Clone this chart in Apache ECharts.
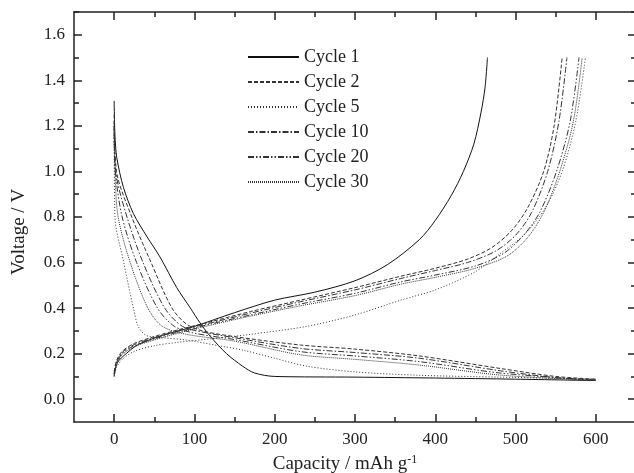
<!DOCTYPE html>
<html>
<head>
<meta charset="utf-8">
<script src="https://cdn.jsdelivr.net/npm/echarts@6/dist/echarts.min.js"></script>
<style>
html, body { margin: 0; padding: 0; background: #fff; }
#main { width: 634px; height: 473px; }
</style>
</head>
<body>
<div id="main"></div>
<script>
// capacity (mAh g-1), voltage (V) pairs
var discharge1 = [[0,1.31],[1,1.16],[3.3,1.06],[11.6,0.93],[24,0.815],[41,0.713],[57,0.625],[78,0.49],[95,0.4],[107,0.335],[120,0.275],[140,0.2],[160,0.145],[175,0.115],[200,0.1],[300,0.097],[400,0.093],[500,0.088],[600,0.082]];
var charge1 = [[0,0.1],[4,0.16],[15,0.2],[30,0.24],[60,0.28],[100,0.32],[150,0.38],[200,0.435],[250,0.47],[300,0.52],[340,0.59],[380,0.7],[400,0.785],[420,0.895],[435,1.0],[448,1.12],[457,1.26],[462,1.37],[465,1.5]];

var discharge2 = [[0,1.25],[3,1.0],[22,0.8],[46,0.6],[72,0.4],[90,0.33],[110,0.3],[150,0.275],[232,0.238],[300,0.22],[380,0.19],[481,0.135],[550,0.1],[600,0.088]];
var charge2 = [[0,0.12],[3,0.17],[10,0.21],[25,0.245],[50,0.275],[80,0.305],[120,0.34],[170,0.385],[232,0.435],[300,0.49],[357,0.54],[400,0.575],[440,0.615],[470,0.665],[495,0.74],[515,0.84],[535,1.0],[548,1.2],[558,1.5]];

var discharge5 = [[0,1.2],[1,0.8],[12,0.6],[24,0.4],[30,0.32],[40,0.28],[60,0.27],[90,0.26],[130,0.235],[161,0.215],[200,0.18],[240,0.145],[300,0.12],[380,0.105],[481,0.097],[600,0.088]];
var charge5 = [[0,0.1],[3,0.14],[10,0.175],[25,0.21],[50,0.235],[80,0.25],[120,0.265],[170,0.285],[240,0.32],[300,0.37],[357,0.435],[400,0.48],[450,0.56],[481,0.64],[510,0.72],[537,0.84],[558,1.0],[575,1.22],[587,1.5]];

var discharge10 = [[0,1.22],[2,1.0],[16,0.8],[36,0.6],[63,0.4],[85,0.32],[110,0.295],[150,0.27],[232,0.223],[300,0.205],[380,0.18],[481,0.125],[550,0.095],[600,0.085]];
var charge10 = [[0,0.11],[3,0.16],[10,0.205],[25,0.24],[50,0.27],[80,0.3],[120,0.335],[170,0.378],[232,0.428],[300,0.48],[357,0.53],[400,0.565],[440,0.6],[475,0.65],[500,0.72],[520,0.82],[540,1.0],[554,1.22],[564,1.5]];

var discharge20 = [[0,1.2],[1.5,1.0],[10,0.8],[28,0.6],[54,0.4],[75,0.32],[100,0.29],[150,0.262],[232,0.209],[300,0.19],[380,0.165],[481,0.115],[600,0.083]];
var charge20 = [[0,0.11],[3,0.16],[10,0.2],[25,0.235],[50,0.265],[80,0.295],[120,0.33],[170,0.37],[232,0.418],[300,0.465],[357,0.515],[400,0.545],[450,0.585],[485,0.64],[510,0.72],[530,0.82],[551,1.0],[568,1.22],[579,1.5]];

var discharge30 = [[0,1.18],[1,1.0],[5,0.8],[20,0.6],[42,0.4],[60,0.32],[90,0.285],[150,0.255],[232,0.195],[300,0.175],[380,0.15],[481,0.106],[600,0.082]];
var charge30 = [[0,0.11],[3,0.155],[10,0.195],[25,0.23],[50,0.26],[80,0.29],[120,0.325],[170,0.365],[232,0.41],[300,0.455],[357,0.505],[400,0.535],[450,0.575],[490,0.63],[515,0.71],[535,0.82],[555,1.0],[572,1.22],[583,1.5]];

var cycleNames = ['Cycle 1', 'Cycle 2', 'Cycle 5', 'Cycle 10', 'Cycle 20', 'Cycle 30'];
var xMajor = [0, 100, 200, 300, 400, 500, 600];
var xMinor = [50, 150, 250, 350, 450, 550, 650];
var yMajor = [0, 0.2, 0.4, 0.6, 0.8, 1.0, 1.2, 1.4, 1.6];
var yMinor = [0.1, 0.3, 0.5, 0.7, 0.9, 1.1, 1.3, 1.5, 1.7];

var myChart = echarts.init(document.getElementById('main'));

var font = 'Liberation Serif';
var ink = '#222';

// line pattern of each cycle
var dashes = ['solid', [4, 2], [1, 2], [6, 2, 1.5, 2], [6, 2, 1.5, 2, 1.5, 2], [1, 1]];
var curves = [
    [discharge1, charge1],
    [discharge2, charge2],
    [discharge5, charge5],
    [discharge10, charge10],
    [discharge20, charge20],
    [discharge30, charge30]
];

var series = [];
for (var i = 0; i < cycleNames.length; i++) {
    for (var k = 0; k < 2; k++) {
        series.push({
            name: cycleNames[i],
            type: 'line',
            data: curves[i][k],
            showSymbol: false,
            symbol: 'none',
            smooth: 0.3,
            lineStyle: { color: i === 0 ? '#111' : '#333', width: 1, type: dashes[i] },
            itemStyle: { color: '#333' },
            z: 3
        });
    }
}

function xAxisCfg(pos, values, len, labels, line) {
    return {
        type: 'value', position: pos, min: -50, max: 650,
        axisLine: { show: line, onZero: false, lineStyle: { color: ink, width: 1.5 } },
        axisTick: { show: true, inside: true, length: len, customValues: values, lineStyle: { color: ink, width: 1.5 } },
        axisLabel: { show: labels, customValues: values, margin: 9, color: ink, fontFamily: font, fontSize: 17 },
        splitLine: { show: false }
    };
}

function yAxisCfg(pos, values, len, labels, line) {
    return {
        type: 'value', position: pos, min: -0.1, max: 1.7,
        axisLine: { show: line, onZero: false, lineStyle: { color: ink, width: 1.5 } },
        axisTick: { show: true, inside: true, length: len, customValues: values, lineStyle: { color: ink, width: 1.5 } },
        axisLabel: { show: labels, customValues: values, margin: 9, color: ink, fontFamily: font, fontSize: 17,
            formatter: function (v) { return v.toFixed(1); } },
        splitLine: { show: false }
    };
}

var xBottom = xAxisCfg('bottom', xMajor, 8, true, true);
xBottom.name = '{a|Capacity / mAh g}{s|-1}';
xBottom.nameLocation = 'middle';
xBottom.nameGap = 32;
xBottom.nameTextStyle = {
    padding: [0, 20, 0, 0],
    rich: {
        a: { fontFamily: font, fontSize: 19, color: ink },
        s: { fontFamily: font, fontSize: 12, color: ink, verticalAlign: 'top', padding: [0, 0, 8, 0] }
    }
};

var yLeft = yAxisCfg('left', yMajor, 8, true, true);
yLeft.name = 'Voltage / V';
yLeft.nameLocation = 'middle';
yLeft.nameGap = 45;
yLeft.nameTextStyle = { fontFamily: font, fontSize: 19, color: ink, padding: [0, 0, 0, -30] };

var option = {
    backgroundColor: '#fff',
    animation: false,
    grid: { left: 74, top: 12, width: 562, bottom: 51, outerBoundsMode: 'none' },
    legend: {
        data: cycleNames,
        orient: 'vertical',
        left: 242, top: 43,
        itemWidth: 51, itemHeight: 14, itemGap: 7,
        itemStyle: { opacity: 0 },
        textStyle: { fontFamily: font, fontSize: 18, color: ink },
        selectedMode: false
    },
    xAxis: [
        xBottom,
        xAxisCfg('bottom', xMinor, 5, false, false),
        xAxisCfg('top', xMajor, 8, false, true),
        xAxisCfg('top', xMinor, 5, false, false)
    ],
    yAxis: [
        yLeft,
        yAxisCfg('left', yMinor, 5, false, false),
        yAxisCfg('right', yMajor, 8, false, true),
        yAxisCfg('right', yMinor, 5, false, false)
    ],
    series: series
};

myChart.setOption(option);
</script>
</body>
</html>
